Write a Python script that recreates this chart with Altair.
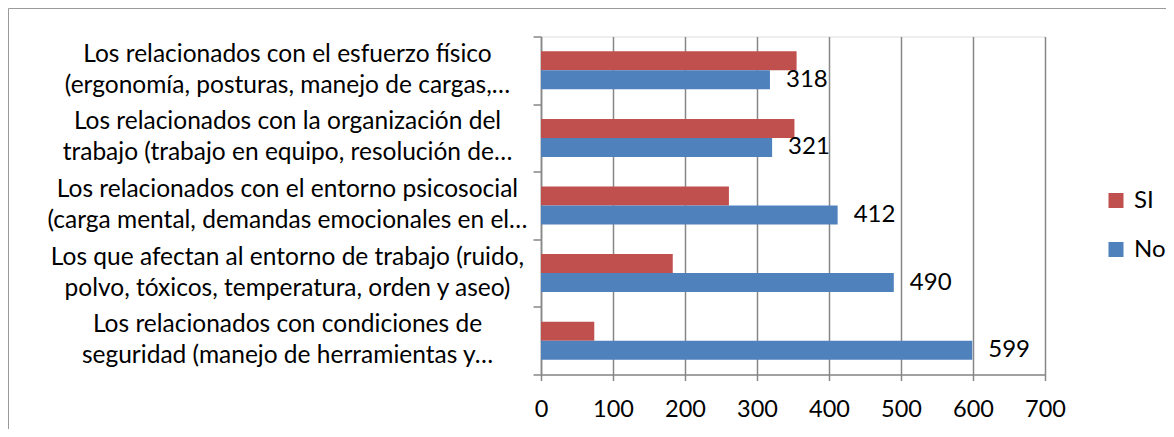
import altair as alt
import pandas as pd

categories = [
    "Los relacionados con el esfuerzo físico|(ergonomía, posturas, manejo de cargas,…",
    "Los relacionados con la organización del|trabajo (trabajo en equipo, resolución de…",
    "Los relacionados con el entorno psicosocial|(carga mental, demandas emocionales en el…",
    "Los que afectan al entorno de trabajo (ruido,|polvo, tóxicos, temperatura, orden y aseo)",
    "Los relacionados con condiciones de|seguridad (manejo de herramientas y…",
]
si_values = [355, 352, 261, 183, 74]
no_values = [318, 321, 412, 490, 599]
series = ["SI", "No"]
series_colors = ["#C0504D", "#4F81BD"]
x_ticks = [0, 100, 200, 300, 400, 500, 600, 700]

rows = []
for c, s, n in zip(categories, si_values, no_values):
    rows.append({"cat": c, "serie": "SI", "valor": s})
    rows.append({"cat": c, "serie": "No", "valor": n})
df = pd.DataFrame(rows)

FONT = "Lato"
GRAY = "#878787"
W, H = 504, 338

y_enc = alt.Y(
    "cat:N",
    sort=categories,
    scale=alt.Scale(paddingInner=0, paddingOuter=0),
    axis=alt.Axis(
        title=None,
        labelExpr="split(datum.label, '|')",
        labelAlign="center",
        labelBaseline="middle",
        labelPadding=246,
        labelOffset=-16,
        labelFontSize=24.5,
        labelLineHeight=31,
        labelFont=FONT,
        labelColor="black",
        labelLimit=1000,
        tickBand="extent",
        tickSize=8,
        tickColor=GRAY,
        tickWidth=1.5,
        domainColor=GRAY,
        domainWidth=1.5,
        grid=False,
    ),
)
yoff_enc = alt.YOffset(
    "serie:N",
    sort=series,
    scale=alt.Scale(domain=series, paddingInner=0, paddingOuter=0.78),
)
x_enc = alt.X(
    "valor:Q",
    scale=alt.Scale(domain=[0, 700], nice=False),
    axis=alt.Axis(
        title=None,
        values=x_ticks,
        grid=True,
        gridColor=GRAY,
        gridWidth=1.5,
        domainColor=GRAY,
        domainWidth=1.5,
        tickColor=GRAY,
        tickWidth=1.5,
        tickSize=6,
        labelFlush=False,
        labelFontSize=23.5,
        labelFont=FONT,
        labelColor="black",
        labelBaseline="middle",
        labelPadding=29,
    ),
)

bars = alt.Chart(df).mark_bar().encode(
    x=x_enc,
    y=y_enc,
    yOffset=yoff_enc,
    color=alt.Color(
        "serie:N",
        sort=series,
        scale=alt.Scale(domain=series, range=series_colors),
        legend=alt.Legend(
            title=None,
            orient="none",
            legendX=563,
            legendY=152,
            padding=0,
            symbolType="square",
            symbolSize=225,
            symbolStrokeWidth=0,
            labelFontSize=24,
            labelFont=FONT,
            labelColor="black",
            labelOffset=6,
            rowPadding=25,
        ),
    ),
)

labels = alt.Chart(df).transform_filter(alt.datum.serie == "No").mark_text(
    align="left", baseline="middle", dx=16, fontSize=24, font=FONT, color="black"
).encode(
    x="valor:Q",
    y=alt.Y("cat:N", sort=categories),
    yOffset=alt.YOffset("serie:N", sort=series),
    text="valor:Q",
)

frame = alt.Chart(pd.DataFrame({"a": [0]})).mark_rect(
    filled=False, stroke="#9a9a9a", strokeWidth=1
).encode(
    x=alt.value(-532.5), x2=alt.value(900), y=alt.value(-28), y2=alt.value(700)
)

chart = alt.layer(frame, bars, labels).properties(
    width=W,
    height=H,
    autosize=alt.AutoSizeParams(type="none"),
    padding={"left": 533, "top": 28.5, "right": 121, "bottom": 54.5},
).configure_view(strokeWidth=0).configure(background="white")

chart.save("out.html", embed_options={"renderer": "svg", "actions": False})
